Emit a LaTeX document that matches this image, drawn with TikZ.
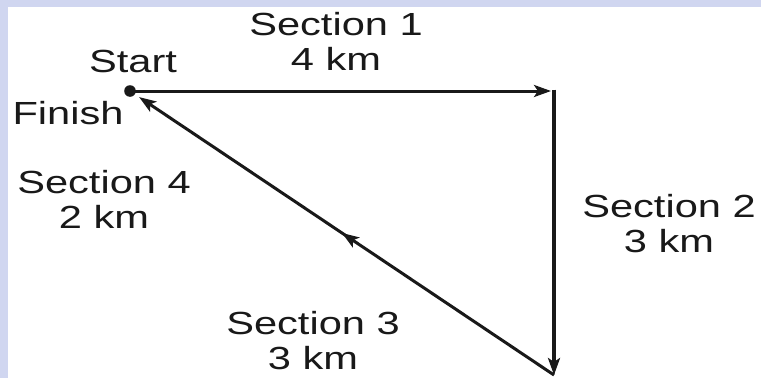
\documentclass[tikz,border=0pt]{standalone}
\usepackage{fontspec}
\setmainfont[FakeStretch=1.3]{Liberation Sans}
\usetikzlibrary{arrows.meta,decorations.markings}
\definecolor{lav}{RGB}{208,214,240}
\definecolor{ink}{RGB}{25,25,25}
\tikzset{
  lbl/.style={inner sep=0pt, align=center, text=ink, font=\fontsize{32}{35}\selectfont},
  tip/.style={-{Stealth[length=17pt,width=12pt,inset=4pt]}},
  seg/.style={draw=ink, line width=3pt},
}
\begin{document}
\begin{tikzpicture}[x=1pt,y=-1pt]
\useasboundingbox (0,0) rectangle (761,378);
\fill[white] (0,0) rectangle (761,378);
\fill[lav] (0,0) rectangle (761,7);
\fill[lav] (0,0) rectangle (8,378);
% points
\coordinate (A) at (130,91);
\coordinate (B) at (554,91);
\coordinate (C) at (554,375);
\coordinate (Btop) at (554,89.5);
% connectors
\draw[seg, tip, shorten >=3pt] (A) -- (B);
\draw[seg, tip, line width=3.4pt] (Btop) -- (C);
\draw[seg, tip, shorten >=11pt,
  postaction={decorate, decoration={markings,
    mark=at position 0.5 with {\arrow[ink]{Stealth[length=17pt,width=12pt,inset=4pt]}}}}]
  (C) -- (A);
\fill[ink] (A) circle (5.8pt);
% labels
\node[lbl] (s1) at (336,41.5) {Section 1\\4 km};
\node[lbl] (start) at (133,61.5) {Start};
\node[lbl] (finish) at (68,113.5) {Finish};
\node[lbl] (s4) at (104,199.5) {Section 4\\2 km};
\node[lbl] (s2) at (669,224) {Section 2\\3 km};
\node[lbl] (s3) at (313,340.5) {Section 3\\3 km};
\end{tikzpicture}
\end{document}
